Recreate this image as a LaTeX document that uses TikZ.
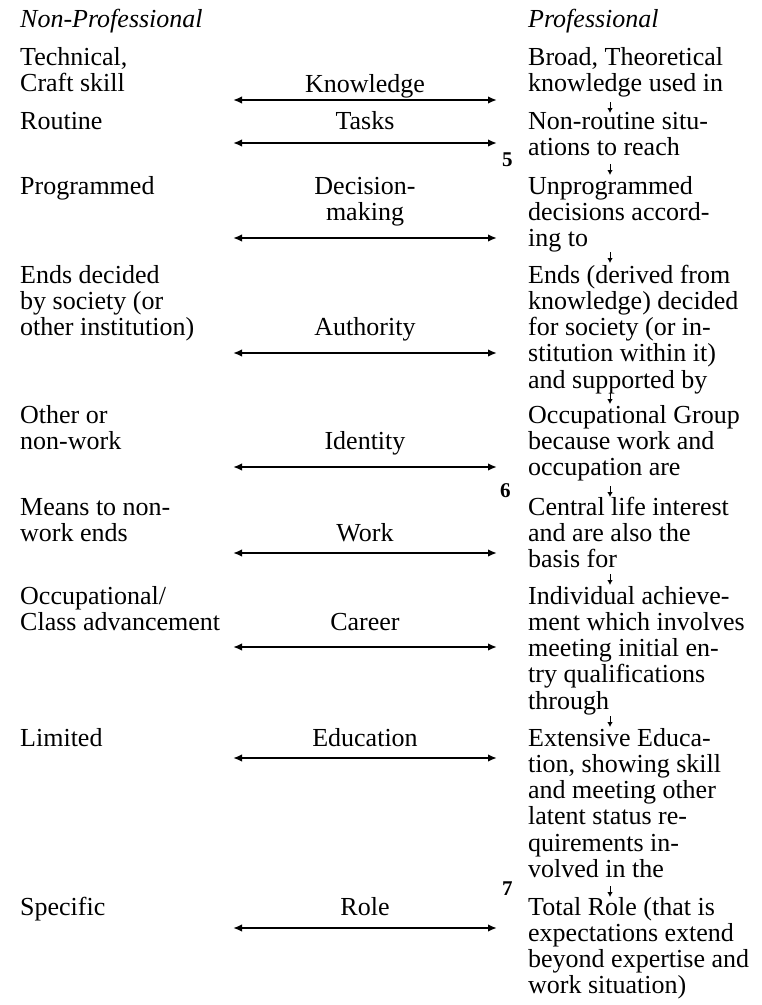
\documentclass[tikz,border=0pt]{standalone}
\usepackage{fontspec}
\setmainfont{Liberation Serif}
\usetikzlibrary{arrows.meta}

% multi-line nodes sit on the baseline of their last line
\tikzset{
    col/.style={anchor=base west, align=left, inner sep=0pt, font=\fontsize{26}{26.3}\selectfont},
    mid/.style={anchor=base, align=center, inner sep=0pt, font=\fontsize{26}{26.3}\selectfont},
    colhead/.style={anchor=base west, inner sep=0pt, font=\fontsize{26}{26.3}\selectfont\itshape},
    num/.style={anchor=base west, inner sep=0pt, font=\fontsize{21}{22}\selectfont\bfseries},
    twoway/.style={{Latex[length=9pt,width=7.5pt]}-{Latex[length=9pt,width=7.5pt]}, line width=2.1pt},
    down/.style={-{Latex[length=5pt,width=5.5pt]}, line width=1pt}
}

\begin{document}
\begin{tikzpicture}[x=1pt, y=-1pt]
        \useasboundingbox (0,0) rectangle (762,1005);

        % headings
        \node (hnon) at (20,27) [colhead] {Non-Professional};
        \node (hpro) at (528,27) [colhead] {Professional};

        % non-professional side
        \node (lknow) at (20,91.3) [col] {Technical,\\Craft skill};
        \node (ltask) at (20,129) [col] {Routine};
        \node (ldec) at (20,194) [col] {Programmed};
        \node (lauth) at (20,335.6) [col] {Ends decided\\by society (or\\other institution)};
        \node (lid) at (20,449.3) [col] {Other or\\non-work};
        \node (lwork) at (20,541.3) [col] {Means to non-\\work ends};
        \node (lcar) at (20,630.3) [col] {Occupational/\\Class advancement};
        \node (ledu) at (20,746) [col] {Limited};
        \node (lrole) at (20,915) [col] {Specific};

        % dimensions
        \node (mknow) at (365,92) [mid] {Knowledge};
        \node (mtask) at (365,129) [mid] {Tasks};
        \node (mdec) at (365,220.3) [mid] {Decision-\\making};
        \node (mauth) at (365,335.6) [mid] {Authority};
        \node (mid) at (365,449.3) [mid] {Identity};
        \node (mwork) at (365,541.3) [mid] {Work};
        \node (mcar) at (365,630.3) [mid] {Career};
        \node (medu) at (365,746) [mid] {Education};
        \node (mrole) at (365,915) [mid] {Role};

        % professional side
        \node (rknow) at (528,91.3) [col] {Broad, Theoretical\\knowledge used in};
        \node (rtask) at (528,155.3) [col] {Non-routine situ-\\ations to reach};
        \node (rdec) at (528,246.6) [col] {Unprogrammed\\decisions accord-\\ing to};
        \node (rauth) at (528,388.2) [col] {Ends (derived from\\knowledge) decided\\for society (or in-\\stitution within it)\\and supported by};
        \node (rid) at (528,475.6) [col] {Occupational Group\\because work and\\occupation are};
        \node (rwork) at (528,567.6) [col] {Central life interest\\and are also the\\basis for};
        \node (rcar) at (528,709.2) [col] {Individual achieve-\\ment which involves\\meeting initial en-\\try qualifications\\through};
        \node (redu) at (528,877.5) [col] {Extensive Educa-\\tion, showing skill\\and meeting other\\latent status re-\\quirements in-\\volved in the};
        \node (rrole) at (528,993.9) [col] {Total Role (that is\\expectations extend\\beyond expertise and\\work situation)};

        % page numbers
        \node (n5) at (502,166) [num] {5};
        \node (n6) at (500,497) [num] {6};
        \node (n7) at (502,895) [num] {7};

        % continuum arrows
        \coordinate (kl) at (233,100);  \coordinate (kr) at (497,100);
        \coordinate (tl) at (233,143);  \coordinate (tr) at (497,143);
        \coordinate (dl) at (233,238);  \coordinate (dr) at (497,238);
        \coordinate (al) at (233,353);  \coordinate (ar) at (497,353);
        \coordinate (il) at (233,467);  \coordinate (ir) at (497,467);
        \coordinate (wl) at (233,553);  \coordinate (wr) at (497,553);
        \coordinate (cl) at (233,647);  \coordinate (cr) at (497,647);
        \coordinate (el) at (233,758);  \coordinate (er) at (497,758);
        \coordinate (rl) at (233,928);  \coordinate (rr) at (497,928);
        \draw[twoway] (kl) -- (kr);
        \draw[twoway] (tl) -- (tr);
        \draw[twoway] (dl) -- (dr);
        \draw[twoway] (al) -- (ar);
        \draw[twoway] (il) -- (ir);
        \draw[twoway] (wl) -- (wr);
        \draw[twoway] (cl) -- (cr);
        \draw[twoway] (el) -- (er);
        \draw[twoway] (rl) -- (rr);

        % chain down the professional side
        \coordinate (s1) at (610,102);  \coordinate (e1) at (610,113);
        \coordinate (s2) at (610,164);  \coordinate (e2) at (610,175);
        \coordinate (s3) at (610,252);  \coordinate (e3) at (610,263);
        \coordinate (s4) at (610,393);  \coordinate (e4) at (610,404);
        \coordinate (s5) at (610,486);  \coordinate (e5) at (610,497);
        \coordinate (s6) at (610,574);  \coordinate (e6) at (610,585);
        \coordinate (s7) at (610,716);  \coordinate (e7) at (610,727);
        \coordinate (s8) at (610,886);  \coordinate (e8) at (610,897);
        \draw[down] (s1) -- (e1);
        \draw[down] (s2) -- (e2);
        \draw[down] (s3) -- (e3);
        \draw[down] (s4) -- (e4);
        \draw[down] (s5) -- (e5);
        \draw[down] (s6) -- (e6);
        \draw[down] (s7) -- (e7);
        \draw[down] (s8) -- (e8);
\end{tikzpicture}
\end{document}
